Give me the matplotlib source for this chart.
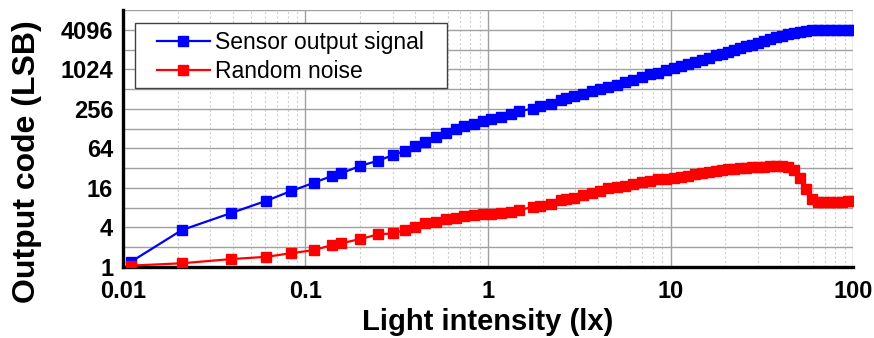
import numpy as np
import matplotlib.pyplot as plt
from matplotlib.patches import Rectangle
from matplotlib.ticker import FixedLocator, NullFormatter, LogLocator

plt.rcParams['font.family'] = ['Liberation Sans', 'DejaVu Sans']

# light intensity (lx)
lux = [0.011, 0.021, 0.039, 0.061, 0.083, 0.111, 0.14, 0.156, 0.2, 0.25,
       0.30, 0.35, 0.40, 0.45, 0.52, 0.59, 0.67, 0.74, 0.84, 0.94,
       1.04, 1.18, 1.34, 1.48, 1.77, 1.93, 2.21, 2.51, 2.68, 2.96,
       3.32, 3.71, 4.11, 4.54, 5.09, 5.63, 6.23, 6.98, 7.72, 8.54,
       9.45, 10.45, 11.41, 12.47, 13.62, 14.88, 16.26, 17.76, 19.15, 20.66,
       22.28, 24.03, 25.92, 27.97, 30.17, 32.53, 35.09, 37.86, 40.83, 44.04,
       47.51, 51.25, 55.27, 59.62, 64.31, 69.37, 74.82, 80.7, 87.05, 93.9,
       100.0]

# sensor output signal (LSB)
signal = [1.19, 3.65, 6.62, 10.19, 14.3, 19.13, 24.44, 26.58, 34.69, 41.6,
          50.4, 58.6, 69.9, 80.4, 95.7, 110.1, 125.3, 139.2, 151.9, 167.6,
          177.9, 192.8, 217.2, 235.4, 258.7, 283.4, 308.2, 345.9, 374.9, 402.1,
          437.4, 479, 521.2, 551.1, 599.4, 656.5, 714, 782, 859.6, 912.4,
          988.9, 1071.7, 1153, 1241, 1336, 1438, 1548, 1666, 1774, 1889,
          2012, 2143, 2291, 2440, 2598, 2767, 2947, 3139, 3343, 3511,
          3675, 3818, 3928, 3997, 4095, 4095, 4095, 4095, 4095, 4095,
          4095]

# random noise (LSB)
noise = [1.05, 1.14, 1.32, 1.43, 1.62, 1.81, 2.16, 2.29, 2.67, 3.14,
         3.25, 3.65, 4.1, 4.62, 4.88, 5.37, 5.62, 5.96, 6.28, 6.33,
         6.39, 6.69, 6.93, 7.36, 8.26, 8.55, 8.98, 10.44, 10.81, 11.31,
         12.43, 13.2, 14.3, 15.72, 16.29, 17.04, 18.09, 19.4, 20.3, 21.55,
         22.16, 22.71, 23.36, 24.19, 25.67, 27.05, 28.21, 29.32, 30.26, 30.9,
         31.45, 32.0, 32.45, 32.9, 33.37, 33.84, 34.32, 34.56, 34.56, 33.72,
         29.84, 22.55, 15.34, 10.81, 9.73, 9.73, 9.8, 9.87, 9.94, 10.0,
         10.08]

ytick_vals = [1, 4, 16, 64, 256, 1024, 4096]
ygrid_extra = [2, 8, 32, 128, 512, 2048, 8192]

fig = plt.figure(figsize=(8.74, 3.38), dpi=100)
ax = fig.add_axes([0.1407, 0.21, 0.8353, 0.7604])

ax.plot(lux, signal, '-s', color='#0000ff', lw=1.6, ms=6.5, label='Sensor output signal', zorder=3)
ax.plot(lux, noise, '-s', color='#ff0000', lw=1.6, ms=6.5, label='Random noise', zorder=3)

ax.set_xscale('log')
ax.set_yscale('log', base=2)
ax.set_xlim(0.01, 100)
ax.set_ylim(1, 8192)

ax.set_xticks([0.01, 0.1, 1, 10, 100])
ax.set_xticklabels(['0.01', '0.1', '1', '10', '100'])
ax.xaxis.set_minor_locator(LogLocator(base=10, subs=np.arange(2, 10)))
ax.xaxis.set_minor_formatter(NullFormatter())

ax.yaxis.set_major_locator(FixedLocator(ytick_vals))
ax.set_yticklabels([str(v) for v in ytick_vals])
ax.yaxis.set_minor_locator(FixedLocator(ygrid_extra))
ax.yaxis.set_minor_formatter(NullFormatter())

ax.grid(True, which='major', axis='both', color='#a0a0a0', lw=1.0)
ax.grid(True, which='minor', axis='y', color='#a0a0a0', lw=1.0)
ax.grid(True, which='minor', axis='x', color='#d0d0d0', lw=0.8, ls=(0, (2, 2)))
ax.set_axisbelow(True)

ax.tick_params(which='both', length=0)
ax.tick_params(axis='y', pad=7, labelsize=17)
ax.tick_params(axis='x', pad=9, labelsize=17)
for lab in ax.get_xticklabels() + ax.get_yticklabels():
    lab.set_fontweight('bold')

for s in ['top', 'right']:
    ax.spines[s].set_visible(False)
for s in ['left', 'bottom']:
    ax.spines[s].set_linewidth(2.4)
    ax.spines[s].set_color('black')

ax.set_xlabel('Light intensity (lx)', fontsize=21, fontweight='bold', labelpad=4)
ax.set_ylabel('Output code (LSB)', fontsize=23, fontweight='bold')
ax.yaxis.set_label_coords(-0.111, 0.41)

# legend box drawn separately (wider side padding than matplotlib's frame)
frame = Rectangle((0.0164, 0.6965), 0.4274, 0.2529, transform=ax.transAxes,
                  facecolor='white', edgecolor='#404040', lw=1.0, zorder=4)
ax.add_patch(frame)
leg = ax.legend(loc='upper left', bbox_to_anchor=(0.0466, 0.917), fontsize=16.5,
                frameon=False, handlelength=2.3, handletextpad=0.25,
                labelspacing=0.25, borderpad=0, borderaxespad=0)
leg.set_zorder(5)

fig.savefig('out.png', dpi=100)
